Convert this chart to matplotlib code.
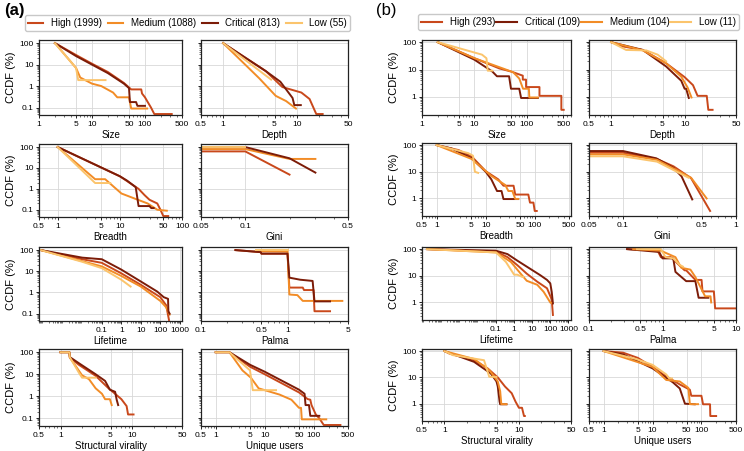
import matplotlib
matplotlib.use('Agg')
import matplotlib.pyplot as plt
from matplotlib.ticker import FixedLocator, FuncFormatter, NullFormatter, LogLocator

plt.rcParams['font.family'] = ['Liberation Sans', 'DejaVu Sans']

W, H = 744, 451

colors = {'High': '#c9481b', 'Medium': '#f28c26', 'Critical': '#7c1c08', 'Low': '#fbc46c'}

# legend texts
order_a = ['High', 'Medium', 'Critical', 'Low']
counts_a = [1999, 1088, 813, 55]
order_b = ['High', 'Critical', 'Medium', 'Low']
counts_b = [293, 109, 104, 11]

metrics = ['Size', 'Depth', 'Breadth', 'Gini', 'Lifetime', 'Palma',
           'Structural virality', 'Unique users']

# ---- panel (a) data: series -> [x values, CCDF %] ----
a_size = {
    'High': [[2, 5, 10, 20, 40, 55, 85, 88, 100, 110, 130, 150, 320],
             [100, 28, 11, 4.5, 1.4, 0.7, 0.7, 0.45, 0.3, 0.2, 0.1, 0.05, 0.05]],
    'Medium': [[2, 5, 6, 10, 15, 25, 30, 50, 55, 110],
               [100, 7, 2.5, 1.3, 1, 0.5, 0.3, 0.3, 0.09, 0.09]],
    'Critical': [[2, 5, 10, 20, 40, 50, 52, 68, 72, 100],
                 [100, 25, 10, 4, 1.3, 0.8, 0.18, 0.18, 0.12, 0.12]],
    'Low': [[2, 5, 5.5, 18], [100, 7, 1.9, 1.9]],
}
a_depth = {
    'High': [[1, 2, 3.8, 6.4, 11.6, 15, 18.5, 22.6],
             [100, 21, 5, 0.9, 0.5, 0.25, 0.05, 0.05]],
    'Medium': [[1, 3.1, 5.2, 7.2, 9.8], [100, 2.3, 0.35, 0.2, 0.09]],
    'Critical': [[1, 3.8, 6, 8.8, 9.3, 11.4], [100, 5, 1.6, 0.28, 0.13, 0.13]],
    'Low': [[1, 4.5], [100, 2]],
}
a_breadth = {
    'High': [[1, 10, 20, 25, 30, 40, 45, 50, 60],
             [100, 4, 1, 0.5, 0.3, 0.2, 0.1, 0.05, 0.05]],
    'Medium': [[1, 4, 5.8, 8.4, 10.6, 17, 28, 40, 57],
               [100, 2.9, 2.9, 1.1, 0.6, 0.35, 0.2, 0.1, 0.09]],
    'Critical': [[1, 10, 13, 18, 20, 30, 32, 35],
                 [100, 4, 2.5, 1.2, 0.15, 0.15, 0.12, 0.12]],
    'Low': [[1, 4, 7], [100, 1.9, 1.9]],
}
a_gini = {
    'High': [[0.05, 0.1, 0.2], [62, 62, 4.8]],
    'Medium': [[0.05, 0.1, 0.2, 0.3], [80, 80, 27, 27]],
    'Critical': [[0.05, 0.1, 0.2, 0.3], [100, 100, 29, 6]],
    'Low': [[0.05, 0.1], [100, 100]],
}
a_lifetime = {
    'High': [[7.4e-5, 0.01, 0.1, 1, 10, 100, 200, 280],
             [100, 37, 25, 8, 2.3, 0.6, 0.25, 0.05]],
    'Medium': [[7.4e-5, 0.01, 0.1, 1, 10, 100, 200, 300],
               [100, 30, 17, 6, 1.9, 0.4, 0.2, 0.09]],
    'Critical': [[7.4e-5, 0.01, 0.1, 1, 10, 70, 150, 250, 260, 300],
                 [100, 44, 37, 12, 3.3, 1.1, 0.6, 0.5, 0.13, 0.1]],
    'Low': [[7.4e-5, 0.01, 0.1, 1, 3], [100, 28, 14, 4, 1.9]],
}
a_palma = {
    'High': [[0.25, 0.49, 0.5, 1.0, 1.05, 1.5, 1.55, 2.0, 2.05, 3.1],
             [100, 80, 68, 68, 1.7, 1.7, 1.3, 1.3, 0.13, 0.13]],
    'Medium': [[0.43, 1.0, 1.05, 1.3, 1.5, 4.3], [90, 85, 0.8, 0.75, 0.4, 0.4]],
    'Critical': [[0.25, 0.49, 0.5, 1.0, 1.05, 1.4, 1.95, 2.05, 3.1],
                 [100, 80, 68, 68, 5, 4, 3.5, 0.38, 0.38]],
    'Low': [[0.43, 1.0], [100, 100]],
}
a_virality = {
    'High': [[1, 1.33, 1.35, 1.8, 3.1, 4.7, 5.8, 7.1, 8.4, 8.8, 10.5],
             [100, 100, 57, 27, 8.5, 2.3, 1.3, 0.74, 0.36, 0.15, 0.15]],
    'Medium': [[1, 1.33, 1.35, 2.0, 2.5, 3.1, 3.8, 4.2, 4.9, 5.2],
               [100, 100, 57, 9, 6, 2.3, 1.3, 0.74, 0.74, 0.4]],
    'Critical': [[1, 1.33, 1.35, 1.8, 3.1, 4.2, 4.9, 5.8, 6.1, 6.4],
                 [100, 100, 60, 32, 10, 5, 2, 1.6, 0.7, 0.4]],
    'Low': [[1, 1.33, 1.35, 1.8, 2.0, 3.1], [100, 100, 60, 12, 7, 7]],
}
a_users = {
    'High': [[1, 1.9, 5, 10, 50, 75, 85, 90, 110, 130, 160, 350],
             [100, 100, 22, 10, 1.5, 0.75, 0.7, 0.4, 0.15, 0.1, 0.05, 0.05]],
    'Medium': [[1, 1.9, 3.5, 5.2, 7.5, 20, 35, 50, 55, 57, 180],
               [100, 100, 15, 7, 2.3, 1.2, 0.7, 0.3, 0.3, 0.09, 0.09]],
    'Critical': [[1, 1.9, 5, 10, 50, 65, 68, 80, 85, 130],
                 [100, 100, 27, 13, 2, 1.3, 0.4, 0.4, 0.13, 0.13]],
    'Low': [[1, 1.9, 5, 5.7, 17], [100, 100, 15, 1.9, 1.9]],
}

# ---- panel (b) data ----
b_size = {
    'High': [[2, 10, 30, 50, 84, 84, 97, 97, 175, 175, 458, 458, 508],
             [100, 26, 11, 8.5, 6, 4.3, 4.3, 2.3, 2.3, 1.1, 1.1, 0.34, 0.34]],
    'Critical': [[2, 10, 22, 27, 46, 50, 72, 78, 163],
                 [100, 23, 8.5, 5.7, 5.7, 2, 2, 0.92, 0.92]],
    'Medium': [[2, 10, 35, 55, 72, 85, 110, 112, 163],
               [100, 26, 11, 8, 4.7, 2, 2, 0.96, 0.96]],
    'Low': [[2, 14, 17, 18, 22], [100, 35, 26, 9.1, 9.1]],
}
b_depth = {
    'High': [[1, 1.44, 2.7, 5.6, 10, 13, 15, 20, 21, 24],
             [100, 70, 52, 17, 5.3, 2.7, 1.1, 1.1, 0.34, 0.34]],
    'Critical': [[1, 2.7, 5.6, 9, 10, 10.5, 11.4], [100, 52, 13, 3.9, 2, 2, 0.92]],
    'Medium': [[1, 2.7, 5.6, 9, 11, 12.4], [100, 50, 17, 5.5, 2.2, 0.96]],
    'Low': [[1, 1.6, 3, 4.3, 5.6], [100, 52, 50, 35, 20]],
}
b_breadth = {
    'High': [[1, 2.8, 5.2, 10, 18, 23, 37, 40, 74, 80, 94, 100, 110],
             [100, 65, 37, 10.5, 5.2, 3, 3, 1.4, 1.4, 0.7, 0.7, 0.34, 0.34]],
    'Critical': [[1, 2, 5.2, 10, 13, 17, 21, 23, 46],
                 [100, 75, 32, 10, 5.2, 1.9, 1.9, 0.95, 0.95]],
    'Medium': [[1, 5.2, 8.4, 13, 25, 29, 35, 40, 46],
               [100, 30, 14, 7, 3.2, 1.9, 1.9, 0.96, 0.96]],
    'Low': [[1, 4.4, 5.5, 6, 7], [100, 50, 40, 10, 9.1]],
}
b_gini = {
    'High': [[0.05, 0.1, 0.2, 0.28, 0.4, 0.59], [52, 52, 30, 16, 5.8, 0.34]],
    'Critical': [[0.05, 0.1, 0.197, 0.28, 0.33, 0.41], [60, 60, 32, 14, 6.7, 0.92]],
    'Medium': [[0.05, 0.1, 0.2, 0.4, 0.55], [45, 45, 28, 6, 1]],
    'Low': [[0.05, 0.1, 0.2, 0.38], [38, 38, 24, 6]],
}
b_lifetime = {
    'High': [[1.5e-5, 0.1, 0.43, 1.5, 5, 19, 66, 120, 140],
             [100, 80, 50, 25, 12, 6, 3.4, 1.3, 0.34]],
    'Critical': [[1.5e-5, 0.1, 0.43, 1.5, 8, 28, 66, 100, 120, 140],
                 [100, 87, 65, 37, 18, 10.5, 7, 5.2, 2.5, 0.92]],
    'Medium': [[1.5e-5, 0.1, 0.66, 2.3, 5, 19, 43, 100, 110],
               [100, 75, 33, 12, 6.5, 4.6, 2.5, 1, 0.96]],
    'Low': [[1.5e-5, 0.1, 0.35, 1, 1.5, 2.8, 3.2], [100, 75, 33, 11, 11, 9.1, 9.1]],
}
b_palma = {
    'High': [[0.33, 0.86, 0.95, 1.3, 2.0, 2.1, 2.8, 3.4, 3.5, 5.0, 5.2, 9.9],
             [100, 87, 50, 50, 16, 16, 7, 7, 2.6, 2.6, 0.6, 0.6]],
    'Critical': [[0.33, 0.9, 1.0, 1.4, 1.5, 2.1, 2.8, 3.1, 4.2],
                 [100, 78, 45, 45, 14, 6.3, 6.3, 1.5, 1.5]],
    'Medium': [[0.4, 0.95, 1.5, 1.8, 2.4, 2.8, 3.8, 4.5, 4.6],
               [100, 87, 50, 20, 17, 9, 1.7, 1.7, 1.0]],
    'Low': [[0.45, 0.95, 1.1, 1.4, 1.7, 1.9], [100, 100, 50, 45, 26, 22]],
}
b_virality = {
    'High': [[1, 1.17, 2.5, 3.8, 5.2, 6.5, 8, 9, 10, 11, 11.7, 12],
             [100, 80, 45, 22, 10, 4.5, 2.5, 1.2, 0.7, 0.7, 0.34, 0.34]],
    'Critical': [[1, 2.5, 4.2, 5, 5.2, 5.5, 5.6, 6.8], [100, 39, 14, 7, 4.5, 1.2, 0.95, 0.95]],
    'Medium': [[1, 2.5, 4, 5.2, 5.6, 5.8, 6.8], [100, 50, 19, 7, 3, 0.96, 0.96]],
    'Low': [[1, 1.3, 3.4, 4.0, 5], [100, 70, 45, 10.5, 10.5]],
}
b_users = {
    'High': [[1, 2.5, 5, 10, 19, 36, 58, 62, 100, 108, 150, 152, 200],
             [100, 87, 55, 25, 11, 5.4, 3.4, 2, 2, 0.95, 0.95, 0.34, 0.34]],
    'Critical': [[1, 2.5, 10, 26, 36, 46, 73], [100, 75, 22, 6.5, 3.8, 1.0, 0.95]],
    'Medium': [[1, 10, 19, 36, 54, 58, 85], [100, 25, 8, 7, 4, 0.96, 0.96]],
    'Low': [[1, 4.6, 10, 19, 22, 25], [100, 50, 30, 13, 9.1, 9.1]],
}

# x limits and ticks
xlims_a = [(1, 500), (0.5, 50), (0.5, 100), (0.05, 0.5),
           (6e-5, 1300), (0.1, 5), (0.5, 50), (0.5, 500)]
xticks_a = [[1, 5, 10, 50, 100, 500], [0.5, 1, 5, 10, 50], [0.5, 1, 5, 10, 50, 100],
            [0.05, 0.1, 0.5], [0.1, 1, 10, 100, 1000], [0.1, 0.5, 1, 5],
            [0.5, 1, 5, 10, 50], [0.5, 1, 5, 10, 50, 100, 500]]
xlims_b = [(1, 700), (0.5, 50), (0.5, 550), (0.05, 1),
           (8e-6, 1400), (0.1, 10), (0.5, 50), (0.5, 510)]
xticks_b = [[1, 5, 10, 50, 100, 500], [0.5, 1, 5, 10, 50], [0.5, 1, 5, 10, 50, 100, 500],
            [0.05, 0.1, 0.5, 1], [0.1, 1, 10, 100, 1000], [0.1, 0.5, 1, 5, 10],
            [0.5, 1, 5, 10, 50], [0.5, 1, 5, 10, 50, 100, 500]]

data_a = [a_size, a_depth, a_breadth, a_gini, a_lifetime, a_palma, a_virality, a_users]
data_b = [b_size, b_depth, b_breadth, b_gini, b_lifetime, b_palma, b_virality, b_users]


def rect(l, t, r, b):
    return [l / W, 1 - b / H, (r - l) / W, (b - t) / H]


fig = plt.figure(figsize=(W / 100, H / 100), dpi=100)
fmt = FuncFormatter(lambda v, p: '%g' % v)


def draw_panel(data, order, xlims, xticks, cols, rows, ylim, yticks):
    for i, d in enumerate(data):
        (l, r), (t, b) = cols[i % 2], rows[i // 2]
        ax = fig.add_axes(rect(l, t, r, b))
        for name in order:
            x, y = d[name]
            ax.plot(x, y, color=colors[name], lw=1.4)
        ax.set_xscale('log')
        ax.set_yscale('log')
        ax.set_xlim(*xlims[i])
        ax.set_ylim(*ylim)
        ax.xaxis.set_major_locator(FixedLocator(xticks[i]))
        ax.xaxis.set_major_formatter(fmt)
        ax.xaxis.set_minor_locator(LogLocator(subs='auto', numticks=50))
        ax.xaxis.set_minor_formatter(NullFormatter())
        ax.yaxis.set_major_locator(FixedLocator(yticks))
        ax.yaxis.set_minor_locator(LogLocator(subs='auto', numticks=50))
        ax.yaxis.set_minor_formatter(NullFormatter())
        if i % 2 == 0:
            ax.yaxis.set_major_formatter(fmt)
            ax.set_ylabel('CCDF (%)', fontsize=8, labelpad=2)
        else:
            ax.yaxis.set_major_formatter(NullFormatter())
        ax.tick_params(which='major', labelsize=6, length=2.5, width=0.6, pad=1.5)
        ax.tick_params(which='minor', length=1.2, width=0.4)
        ax.grid(True, which='major', color='#d8d8d8', lw=0.6)
        ax.set_axisbelow(True)
        for s in ax.spines.values():
            s.set_linewidth(0.9)
            s.set_color('#222222')
        ax.set_xlabel(metrics[i], fontsize=7, labelpad=2)


draw_panel(data_a, order_a, xlims_a, xticks_a, [(39, 182), (201, 348)],
           [(40, 115), (144, 217), (247, 321), (349, 426)], (0.045, 140), [0.1, 1, 10, 100])
draw_panel(data_b, order_b, xlims_b, xticks_b, [(422, 571), (589, 736)],
           [(40, 115), (143, 216), (247, 320), (349, 421)], (0.22, 120), [1, 10, 100])

# legends
h_a = [plt.Line2D([], [], color=colors[n], lw=1.5) for n in order_a]
fig.legend(h_a, ['%s (%d)' % (n, c) for n, c in zip(order_a, counts_a)],
           loc='lower left', bbox_to_anchor=(25 / W, 1 - 31 / H, 325 / W, 13 / H),
           mode='expand', ncol=4, fontsize=7, handlelength=1.6, borderpad=0.3,
           frameon=True, edgecolor='#bbbbbb', fancybox=True, borderaxespad=0)
h_b = [plt.Line2D([], [], color=colors[n], lw=1.5) for n in order_b]
fig.legend(h_b, ['%s (%d)' % (n, c) for n, c in zip(order_b, counts_b)],
           loc='lower left', bbox_to_anchor=(418 / W, 1 - 30 / H, 321 / W, 13 / H),
           mode='expand', ncol=4, fontsize=7, handlelength=2.2, borderpad=0.3,
           frameon=True, edgecolor='#bbbbbb', fancybox=True, borderaxespad=0)

fig.text(4 / W, 1 - 11 / H, '(a)', fontsize=12, fontweight='bold', va='center')
fig.text(376 / W, 1 - 11 / H, '(b)', fontsize=12, va='center')

fig.savefig('out.png', dpi=100)
